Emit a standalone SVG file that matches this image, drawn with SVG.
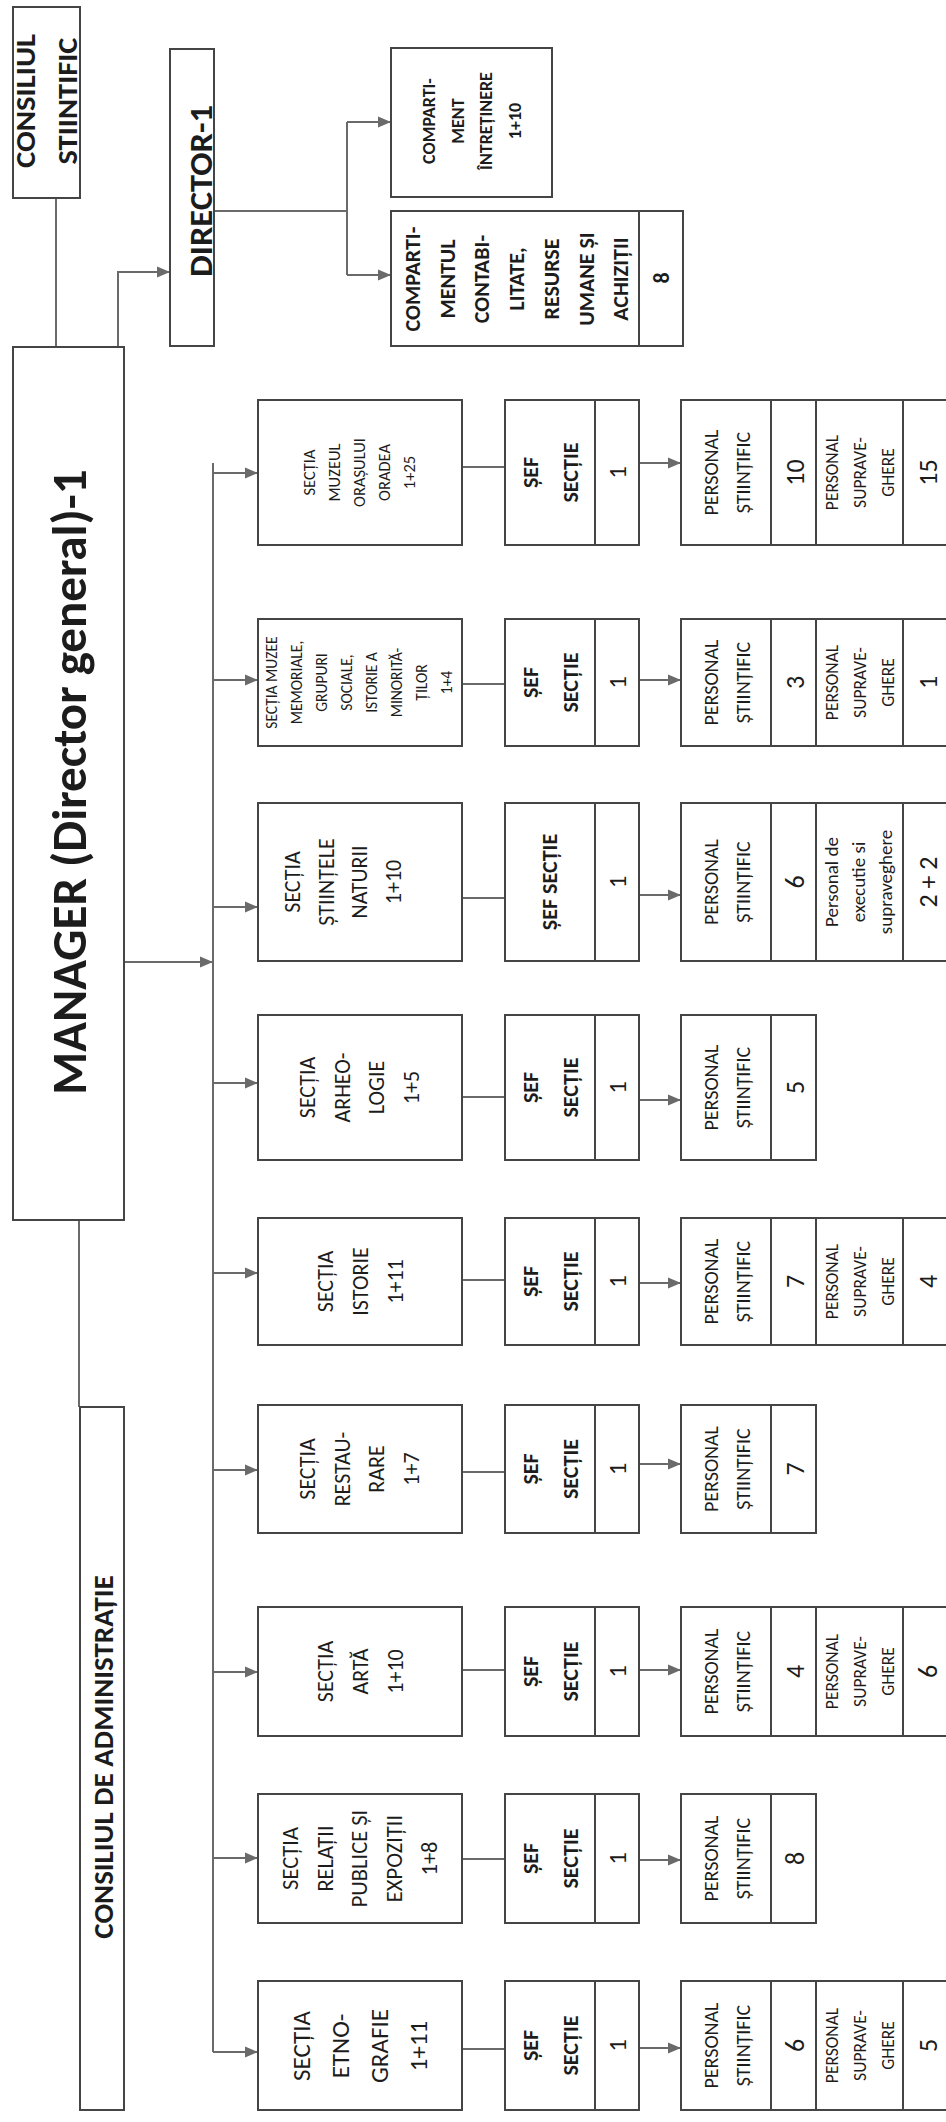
<svg xmlns="http://www.w3.org/2000/svg" width="946" height="2122" viewBox="0 0 946 2122">
<style>
.box{fill:#fff;stroke:#454545;stroke-width:2}
.dv{stroke:#454545;stroke-width:2;fill:none}
.con{fill:none;stroke:#6a6a6a;stroke-width:2}
.t{font-family:Carlito,Lato,"Liberation Sans",sans-serif;fill:#1c1c1c;text-anchor:middle}
.b{font-weight:bold}
.sec{font-size:22px}
.sef{font-size:22px;font-weight:bold}
.one{font-size:25px}
.ps{font-size:20px}
.num{font-size:26px}
.sup{font-size:17.5px}
</style>
<defs>
<marker id="arr" markerWidth="14" markerHeight="12" refX="13" refY="6" orient="auto" markerUnits="userSpaceOnUse">
<path d="M0,0.5 L13,6 L0,11.5 z" fill="#6a6a6a"/>
</marker>
</defs>
<rect width="946" height="2122" fill="#fff"/>

<g id="connectors">
<path class="con" d="M56,198 V347"/>
<path class="con" d="M118,347 V272 H170" marker-end="url(#arr)"/>
<path class="con" d="M214,211 H347"/>
<path class="con" d="M347,122 V275"/>
<path class="con" d="M347,122 H391" marker-end="url(#arr)"/>
<path class="con" d="M347,275 H391" marker-end="url(#arr)"/>
<path class="con" d="M79,1220 V1407"/>
<path class="con" d="M124,962 H213" marker-end="url(#arr)"/>
<path class="con" d="M213,463 V2052"/>
<path class="con" d="M213,473 H258" marker-end="url(#arr)"/>
<path class="con" d="M213,680 H258" marker-end="url(#arr)"/>
<path class="con" d="M213,907 H258" marker-end="url(#arr)"/>
<path class="con" d="M213,1083 H258" marker-end="url(#arr)"/>
<path class="con" d="M213,1273 H258" marker-end="url(#arr)"/>
<path class="con" d="M213,1470 H258" marker-end="url(#arr)"/>
<path class="con" d="M213,1672 H258" marker-end="url(#arr)"/>
<path class="con" d="M213,1858 H258" marker-end="url(#arr)"/>
<path class="con" d="M213,2052 H258" marker-end="url(#arr)"/>
<path class="con" d="M462,467 H505"/>
<path class="con" d="M462,684 H505"/>
<path class="con" d="M462,898 H505"/>
<path class="con" d="M462,1097 H505"/>
<path class="con" d="M462,1280 H505"/>
<path class="con" d="M462,1472 H505"/>
<path class="con" d="M462,1670 H505"/>
<path class="con" d="M462,1859 H505"/>
<path class="con" d="M462,2049 H505"/>
<path class="con" d="M639,463 H681" marker-end="url(#arr)"/>
<path class="con" d="M639,680 H681" marker-end="url(#arr)"/>
<path class="con" d="M639,895 H681" marker-end="url(#arr)"/>
<path class="con" d="M639,1100 H681" marker-end="url(#arr)"/>
<path class="con" d="M639,1283 H681" marker-end="url(#arr)"/>
<path class="con" d="M639,1464 H681" marker-end="url(#arr)"/>
<path class="con" d="M639,1670 H681" marker-end="url(#arr)"/>
<path class="con" d="M639,1860 H681" marker-end="url(#arr)"/>
<path class="con" d="M639,2048 H681" marker-end="url(#arr)"/>
</g>

<g id="consiliul-stiintific">
<rect class="box" x="13" y="7" width="67" height="191"/>
<text class="t b" font-size="29" transform="translate(35,101) rotate(-90)"><tspan x="0" y="0" textLength="134" lengthAdjust="spacingAndGlyphs">CONSILIUL</tspan><tspan x="0" dy="42" textLength="127" lengthAdjust="spacingAndGlyphs">STIINTIFIC</tspan></text>
</g>

<g id="director">
<rect class="box" x="170" y="49" width="44" height="297"/>
<text class="t b" font-size="33" textLength="172" lengthAdjust="spacingAndGlyphs" transform="translate(212,191) rotate(-90)">DIRECTOR-1</text>
</g>

<g id="compartiment-intretinere">
<rect class="box" x="391" y="48" width="161" height="149"/>
<text class="t b" font-size="18" transform="translate(435,121) rotate(-90)"><tspan x="0" y="0">COMPARTI-</tspan><tspan x="0" dy="29">MENT</tspan><tspan x="0" dy="28">ÎNTREȚINERE</tspan><tspan x="0" dy="29">1+10</tspan></text>
</g>

<g id="compartimentul-contabilitate">
<rect class="box" x="391" y="211" width="292" height="135"/>
<line class="dv" x1="639" y1="211" x2="639" y2="346"/>
<text class="t b" font-size="22" transform="translate(420,279) rotate(-90)"><tspan x="0" y="0">COMPARTI-</tspan><tspan x="0" dy="34.7">MENTUL</tspan><tspan x="0" dy="34.7">CONTABI-</tspan><tspan x="0" dy="34.7">LITATE,</tspan><tspan x="0" dy="34.7">RESURSE</tspan><tspan x="0" dy="34.7">UMANE ȘI</tspan><tspan x="0" dy="34.7">ACHIZIȚII</tspan></text>
<text class="t b" font-size="22" transform="translate(669,278) rotate(-90)">8</text>
</g>

<g id="manager">
<rect class="box" x="13" y="347" width="111" height="873"/>
<text class="t b" font-size="49" transform="translate(86,782) rotate(-90)">MANAGER (Director general)-1</text>
</g>

<g id="consiliul-administratie">
<rect class="box" x="80" y="1407" width="44" height="703"/>
<text class="t b" font-size="29" transform="translate(113,1757) rotate(-90)">CONSILIUL DE ADMINISTRAȚIE</text>
</g>

<!-- Row 1: Muzeul Orasului Oradea -->
<g id="sectia-muzeul-orasului">
<rect class="box" x="258" y="400" width="204" height="145"/>
<text class="t" font-size="16.5" transform="translate(315,472.5) rotate(-90)"><tspan x="0" y="0">SECȚIA</tspan><tspan x="0" dy="25">MUZEUL</tspan><tspan x="0" dy="25">ORAȘULUI</tspan><tspan x="0" dy="25">ORADEA</tspan><tspan x="0" dy="25">1+25</tspan></text>
</g>
<g id="sef-muzeul-orasului">
<rect class="box" x="505" y="400" width="134" height="145"/>
<line class="dv" x1="595" y1="400" x2="595" y2="545"/>
<text class="t sef" transform="translate(538,472.5) rotate(-90)"><tspan x="0" y="0">ȘEF</tspan><tspan x="0" dy="40">SECȚIE</tspan></text>
<text class="t one" transform="translate(626,472.5) rotate(-90)">1</text>
</g>
<g id="personal-muzeul-orasului">
<rect class="box" x="681" y="400" width="279" height="145"/>
<line class="dv" x1="771" y1="400" x2="771" y2="545"/>
<line class="dv" x1="816" y1="400" x2="816" y2="545"/>
<line class="dv" x1="903" y1="400" x2="903" y2="545"/>
<text class="t ps" transform="translate(718,472.5) rotate(-90)"><tspan x="0" y="0">PERSONAL</tspan><tspan x="0" dy="32">ȘTIINȚIFIC</tspan></text>
<text class="t num" transform="translate(804,472.5) rotate(-90)">10</text>
<text class="t sup" transform="translate(838,472.5) rotate(-90)"><tspan x="0" y="0">PERSONAL</tspan><tspan x="0" dy="28">SUPRAVE-</tspan><tspan x="0" dy="28">GHERE</tspan></text>
<text class="t num" transform="translate(937,472.5) rotate(-90)">15</text>
</g>

<!-- Row 2: Muzee memoriale -->
<g id="sectia-muzee-memoriale">
<rect class="box" x="258" y="619" width="204" height="127"/>
<text class="t" font-size="15.5" transform="translate(277,682.5) rotate(-90)"><tspan x="0" y="0">SECȚIA MUZEE</tspan><tspan x="0" dy="25">MEMORIALE,</tspan><tspan x="0" dy="25">GRUPURI</tspan><tspan x="0" dy="25">SOCIALE,</tspan><tspan x="0" dy="25">ISTORIE A</tspan><tspan x="0" dy="25">MINORITĂ-</tspan><tspan x="0" dy="25">ȚILOR</tspan><tspan x="0" dy="25">1+4</tspan></text>
</g>
<g id="sef-muzee-memoriale">
<rect class="box" x="505" y="619" width="134" height="127"/>
<line class="dv" x1="595" y1="619" x2="595" y2="746"/>
<text class="t sef" transform="translate(538,682.5) rotate(-90)"><tspan x="0" y="0">ȘEF</tspan><tspan x="0" dy="40">SECȚIE</tspan></text>
<text class="t one" transform="translate(626,682.5) rotate(-90)">1</text>
</g>
<g id="personal-muzee-memoriale">
<rect class="box" x="681" y="619" width="279" height="127"/>
<line class="dv" x1="771" y1="619" x2="771" y2="746"/>
<line class="dv" x1="816" y1="619" x2="816" y2="746"/>
<line class="dv" x1="903" y1="619" x2="903" y2="746"/>
<text class="t ps" transform="translate(718,682.5) rotate(-90)"><tspan x="0" y="0">PERSONAL</tspan><tspan x="0" dy="32">ȘTIINȚIFIC</tspan></text>
<text class="t num" transform="translate(804,682.5) rotate(-90)">3</text>
<text class="t sup" transform="translate(838,682.5) rotate(-90)"><tspan x="0" y="0">PERSONAL</tspan><tspan x="0" dy="28">SUPRAVE-</tspan><tspan x="0" dy="28">GHERE</tspan></text>
<text class="t num" transform="translate(937,682.5) rotate(-90)">1</text>
</g>

<!-- Row 3: Stiintele naturii -->
<g id="sectia-stiintele-naturii">
<rect class="box" x="258" y="803" width="204" height="158"/>
<text class="t sec" transform="translate(300,882) rotate(-90)"><tspan x="0" y="0">SECȚIA</tspan><tspan x="0" dy="33.5">ȘTIINȚELE</tspan><tspan x="0" dy="33.5">NATURII</tspan><tspan x="0" dy="33.5">1+10</tspan></text>
</g>
<g id="sef-stiintele-naturii">
<rect class="box" x="505" y="803" width="134" height="158"/>
<line class="dv" x1="595" y1="803" x2="595" y2="961"/>
<text class="t sef" transform="translate(557,882) rotate(-90)">ȘEF SECȚIE</text>
<text class="t one" transform="translate(626,882) rotate(-90)">1</text>
</g>
<g id="personal-stiintele-naturii">
<rect class="box" x="681" y="803" width="279" height="158"/>
<line class="dv" x1="771" y1="803" x2="771" y2="961"/>
<line class="dv" x1="816" y1="803" x2="816" y2="961"/>
<line class="dv" x1="903" y1="803" x2="903" y2="961"/>
<text class="t ps" transform="translate(718,882) rotate(-90)"><tspan x="0" y="0">PERSONAL</tspan><tspan x="0" dy="32">ȘTIINȚIFIC</tspan></text>
<text class="t num" transform="translate(804,882) rotate(-90)">6</text>
<text class="t" font-size="19" transform="translate(838,882) rotate(-90)"><tspan x="0" y="0">Personal de</tspan><tspan x="0" dy="27">executie si</tspan><tspan x="0" dy="27">supraveghere</tspan></text>
<text class="t num" transform="translate(937,882) rotate(-90)">2 + 2</text>
</g>

<!-- Row 4: Arheologie -->
<g id="sectia-arheologie">
<rect class="box" x="258" y="1015" width="204" height="145"/>
<text class="t sec" transform="translate(315,1087.5) rotate(-90)"><tspan x="0" y="0">SECȚIA</tspan><tspan x="0" dy="34.5">ARHEO-</tspan><tspan x="0" dy="34.5">LOGIE</tspan><tspan x="0" dy="34.5">1+5</tspan></text>
</g>
<g id="sef-arheologie">
<rect class="box" x="505" y="1015" width="134" height="145"/>
<line class="dv" x1="595" y1="1015" x2="595" y2="1160"/>
<text class="t sef" transform="translate(538,1087.5) rotate(-90)"><tspan x="0" y="0">ȘEF</tspan><tspan x="0" dy="40">SECȚIE</tspan></text>
<text class="t one" transform="translate(626,1087.5) rotate(-90)">1</text>
</g>
<g id="personal-arheologie">
<rect class="box" x="681" y="1015" width="135" height="145"/>
<line class="dv" x1="771" y1="1015" x2="771" y2="1160"/>
<text class="t ps" transform="translate(718,1087.5) rotate(-90)"><tspan x="0" y="0">PERSONAL</tspan><tspan x="0" dy="32">ȘTIINȚIFIC</tspan></text>
<text class="t num" transform="translate(804,1087.5) rotate(-90)">5</text>
</g>

<!-- Row 5: Istorie -->
<g id="sectia-istorie">
<rect class="box" x="258" y="1218" width="204" height="127"/>
<text class="t sec" transform="translate(333,1281.5) rotate(-90)"><tspan x="0" y="0">SECȚIA</tspan><tspan x="0" dy="35">ISTORIE</tspan><tspan x="0" dy="35">1+11</tspan></text>
</g>
<g id="sef-istorie">
<rect class="box" x="505" y="1218" width="134" height="127"/>
<line class="dv" x1="595" y1="1218" x2="595" y2="1345"/>
<text class="t sef" transform="translate(538,1281.5) rotate(-90)"><tspan x="0" y="0">ȘEF</tspan><tspan x="0" dy="40">SECȚIE</tspan></text>
<text class="t one" transform="translate(626,1281.5) rotate(-90)">1</text>
</g>
<g id="personal-istorie">
<rect class="box" x="681" y="1218" width="279" height="127"/>
<line class="dv" x1="771" y1="1218" x2="771" y2="1345"/>
<line class="dv" x1="816" y1="1218" x2="816" y2="1345"/>
<line class="dv" x1="903" y1="1218" x2="903" y2="1345"/>
<text class="t ps" transform="translate(718,1281.5) rotate(-90)"><tspan x="0" y="0">PERSONAL</tspan><tspan x="0" dy="32">ȘTIINȚIFIC</tspan></text>
<text class="t num" transform="translate(804,1281.5) rotate(-90)">7</text>
<text class="t sup" transform="translate(838,1281.5) rotate(-90)"><tspan x="0" y="0">PERSONAL</tspan><tspan x="0" dy="28">SUPRAVE-</tspan><tspan x="0" dy="28">GHERE</tspan></text>
<text class="t num" transform="translate(937,1281.5) rotate(-90)">4</text>
</g>

<!-- Row 6: Restaurare -->
<g id="sectia-restaurare">
<rect class="box" x="258" y="1405" width="204" height="128"/>
<text class="t sec" transform="translate(315,1469) rotate(-90)"><tspan x="0" y="0">SECȚIA</tspan><tspan x="0" dy="34.5">RESTAU-</tspan><tspan x="0" dy="34.5">RARE</tspan><tspan x="0" dy="34.5">1+7</tspan></text>
</g>
<g id="sef-restaurare">
<rect class="box" x="505" y="1405" width="134" height="128"/>
<line class="dv" x1="595" y1="1405" x2="595" y2="1533"/>
<text class="t sef" transform="translate(538,1469) rotate(-90)"><tspan x="0" y="0">ȘEF</tspan><tspan x="0" dy="40">SECȚIE</tspan></text>
<text class="t one" transform="translate(626,1469) rotate(-90)">1</text>
</g>
<g id="personal-restaurare">
<rect class="box" x="681" y="1405" width="135" height="128"/>
<line class="dv" x1="771" y1="1405" x2="771" y2="1533"/>
<text class="t ps" transform="translate(718,1469) rotate(-90)"><tspan x="0" y="0">PERSONAL</tspan><tspan x="0" dy="32">ȘTIINȚIFIC</tspan></text>
<text class="t num" transform="translate(804,1469) rotate(-90)">7</text>
</g>

<!-- Row 7: Arta -->
<g id="sectia-arta">
<rect class="box" x="258" y="1607" width="204" height="129"/>
<text class="t sec" transform="translate(333,1671.5) rotate(-90)"><tspan x="0" y="0">SECȚIA</tspan><tspan x="0" dy="35">ARTĂ</tspan><tspan x="0" dy="35">1+10</tspan></text>
</g>
<g id="sef-arta">
<rect class="box" x="505" y="1607" width="134" height="129"/>
<line class="dv" x1="595" y1="1607" x2="595" y2="1736"/>
<text class="t sef" transform="translate(538,1671.5) rotate(-90)"><tspan x="0" y="0">ȘEF</tspan><tspan x="0" dy="40">SECȚIE</tspan></text>
<text class="t one" transform="translate(626,1671.5) rotate(-90)">1</text>
</g>
<g id="personal-arta">
<rect class="box" x="681" y="1607" width="279" height="129"/>
<line class="dv" x1="771" y1="1607" x2="771" y2="1736"/>
<line class="dv" x1="816" y1="1607" x2="816" y2="1736"/>
<line class="dv" x1="903" y1="1607" x2="903" y2="1736"/>
<text class="t ps" transform="translate(718,1671.5) rotate(-90)"><tspan x="0" y="0">PERSONAL</tspan><tspan x="0" dy="32">ȘTIINȚIFIC</tspan></text>
<text class="t num" transform="translate(804,1671.5) rotate(-90)">4</text>
<text class="t sup" transform="translate(838,1671.5) rotate(-90)"><tspan x="0" y="0">PERSONAL</tspan><tspan x="0" dy="28">SUPRAVE-</tspan><tspan x="0" dy="28">GHERE</tspan></text>
<text class="t num" transform="translate(937,1671.5) rotate(-90)">6</text>
</g>

<!-- Row 8: Relatii publice -->
<g id="sectia-relatii-publice">
<rect class="box" x="258" y="1794" width="204" height="129"/>
<text class="t" font-size="22.5" transform="translate(298,1858.5) rotate(-90)"><tspan x="0" y="0">SECȚIA</tspan><tspan x="0" dy="34.7">RELAȚII</tspan><tspan x="0" dy="34.7">PUBLICE ȘI</tspan><tspan x="0" dy="34.7">EXPOZIȚII</tspan><tspan x="0" dy="34.7">1+8</tspan></text>
</g>
<g id="sef-relatii-publice">
<rect class="box" x="505" y="1794" width="134" height="129"/>
<line class="dv" x1="595" y1="1794" x2="595" y2="1923"/>
<text class="t sef" transform="translate(538,1858.5) rotate(-90)"><tspan x="0" y="0">ȘEF</tspan><tspan x="0" dy="40">SECȚIE</tspan></text>
<text class="t one" transform="translate(626,1858.5) rotate(-90)">1</text>
</g>
<g id="personal-relatii-publice">
<rect class="box" x="681" y="1794" width="135" height="129"/>
<line class="dv" x1="771" y1="1794" x2="771" y2="1923"/>
<text class="t ps" transform="translate(718,1858.5) rotate(-90)"><tspan x="0" y="0">PERSONAL</tspan><tspan x="0" dy="32">ȘTIINȚIFIC</tspan></text>
<text class="t num" transform="translate(804,1858.5) rotate(-90)">8</text>
</g>

<!-- Row 9: Etnografie -->
<g id="sectia-etnografie">
<rect class="box" x="258" y="1981" width="204" height="129"/>
<text class="t" font-size="25" transform="translate(310,2046) rotate(-90)"><tspan x="0" y="0">SECȚIA</tspan><tspan x="0" dy="39">ETNO-</tspan><tspan x="0" dy="39">GRAFIE</tspan><tspan x="0" dy="39">1+11</tspan></text>
</g>
<g id="sef-etnografie">
<rect class="box" x="505" y="1981" width="134" height="129"/>
<line class="dv" x1="595" y1="1981" x2="595" y2="2110"/>
<text class="t sef" transform="translate(538,2045.5) rotate(-90)"><tspan x="0" y="0">ȘEF</tspan><tspan x="0" dy="40">SECȚIE</tspan></text>
<text class="t one" transform="translate(626,2045.5) rotate(-90)">1</text>
</g>
<g id="personal-etnografie">
<rect class="box" x="681" y="1981" width="279" height="129"/>
<line class="dv" x1="771" y1="1981" x2="771" y2="2110"/>
<line class="dv" x1="816" y1="1981" x2="816" y2="2110"/>
<line class="dv" x1="903" y1="1981" x2="903" y2="2110"/>
<text class="t ps" transform="translate(718,2045.5) rotate(-90)"><tspan x="0" y="0">PERSONAL</tspan><tspan x="0" dy="32">ȘTIINȚIFIC</tspan></text>
<text class="t num" transform="translate(804,2045.5) rotate(-90)">6</text>
<text class="t sup" transform="translate(838,2045.5) rotate(-90)"><tspan x="0" y="0">PERSONAL</tspan><tspan x="0" dy="28">SUPRAVE-</tspan><tspan x="0" dy="28">GHERE</tspan></text>
<text class="t num" transform="translate(937,2045.5) rotate(-90)">5</text>
</g>
</svg>
